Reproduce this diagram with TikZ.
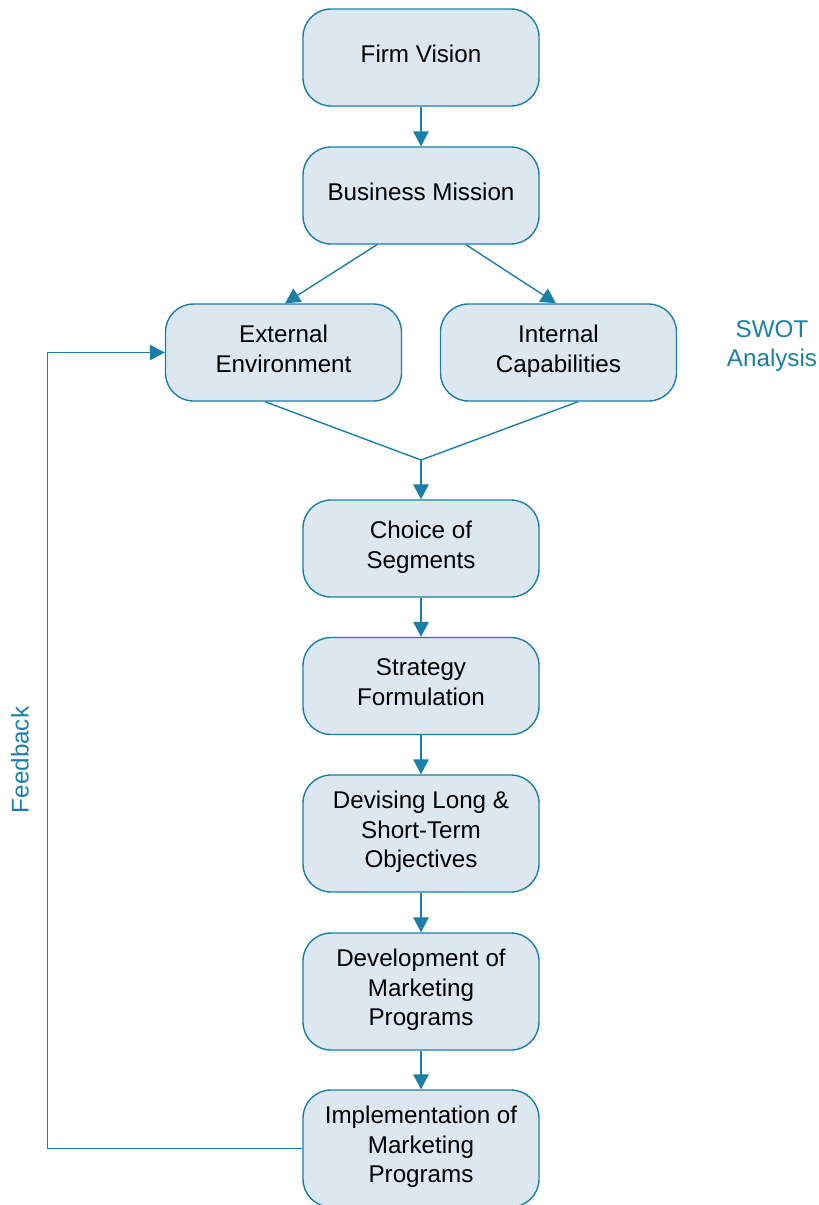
\documentclass[tikz,border=0pt]{standalone}
\usepackage{fontspec}
\setmainfont{Liberation Sans}
\usepackage{xcolor}
\usetikzlibrary{arrows.meta}
\definecolor{flowblue}{HTML}{1A7FA8}
\definecolor{boxfill}{HTML}{DCE7F0}

\begin{document}
\begin{tikzpicture}[x=1pt,y=-1pt,
		stage/.style={shape=rectangle, rounded corners=28pt, draw=flowblue, fill=boxfill, line width=1.4pt, minimum width=236pt, minimum height=97pt, inner sep=0pt, text depth=8pt, align=center, font=\fontsize{24.2}{29.5}\selectfont},
		tall/.style={minimum height=117pt},
		flow/.style={-{Triangle[width=15.5pt,length=15pt]}, line width=1.4pt, draw=flowblue},
		side/.style={text=flowblue, align=center, font=\fontsize{24.2}{29.5}\selectfont}]
			\useasboundingbox (0,0) rectangle (819,1205);

			\node[stage] (fv) at (421,57.5) {Firm Vision};
			\node[stage] (bm) at (421,195.5) {Business Mission};
			\node[stage] (ee) at (283.5,352.5) {External\\Environment};
			\node[stage] (ic) at (558.5,352.5) {Internal\\Capabilities};
			\node[side] (swot) at (772,346) {SWOT\\Analysis};
			\node[stage] (cs) at (421,548.5) {Choice of\\Segments};
			\node[stage] (sf) at (421,686) {Strategy\\Formulation};
			\node[stage,tall] (dl) at (421,833.5) {Devising Long \&\\Short-Term\\Objectives};
			\node[stage,tall] (dm) at (421,991.5) {Development of\\Marketing\\Programs};
			\node[stage,tall] (im) at (421,1148.5) {Implementation of\\Marketing\\Programs};
			\node[side, rotate=90] (fb) at (20,760) {Feedback};
			\coordinate (mg) at (421,460);

			%% lines
			\draw[flow] (fv) -- (bm);
			\draw[flow] ([xshift=-44pt]bm.south) -- ([xshift=1.5pt]ee.north);
			\draw[flow] ([xshift=45pt]bm.south) -- ([xshift=-2.5pt]ic.north);
			\draw[line width=1.4pt, flowblue] ([xshift=-18.5pt]ee.south) -- (mg) -- ([xshift=19.5pt]ic.south);
			\draw[flow] (mg) -- (cs);
			\draw[flow] (cs) -- (sf);
			\draw[flow] (sf) -- (dl);
			\draw[flow] (dl) -- (dm);
			\draw[flow] (dm) -- (im);
			\draw[flow] (im.west) -- ++(-255,0) |- (ee.west);
		\end{tikzpicture}
\end{document}
